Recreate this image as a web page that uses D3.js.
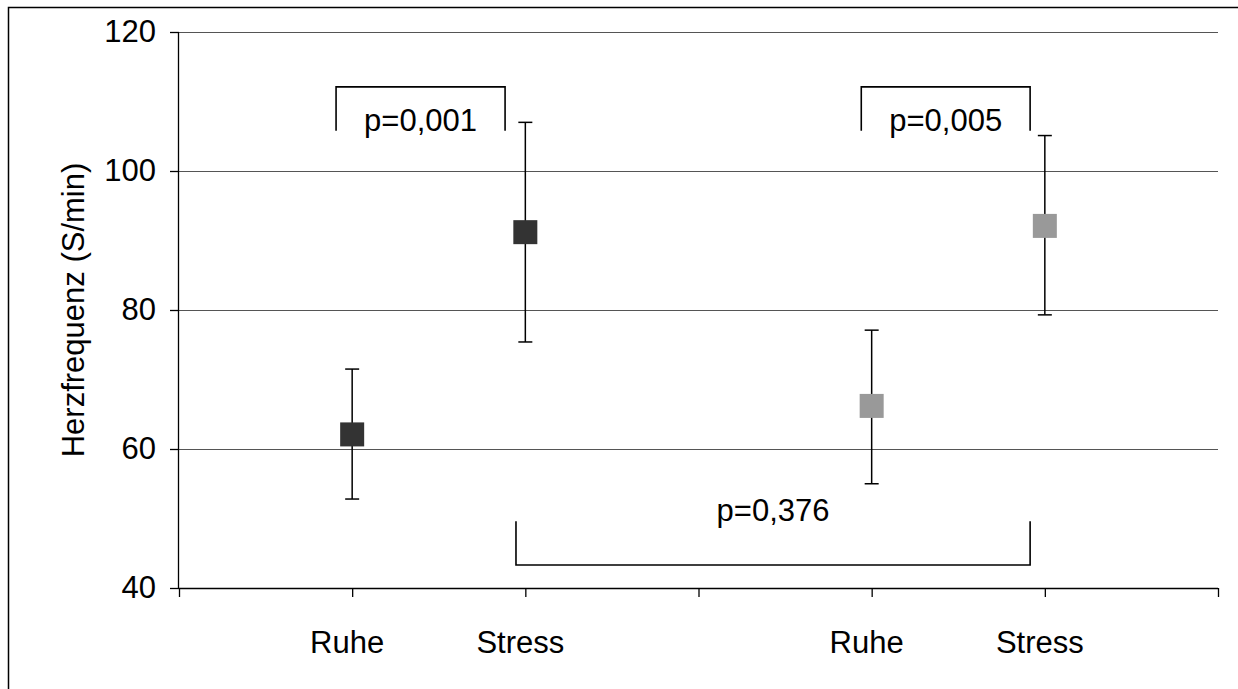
<!DOCTYPE html>
<html>
<head>
<meta charset="utf-8">
<script src="https://cdn.jsdelivr.net/npm/d3@7"></script>
<style>
  html, body { margin: 0; padding: 0; background: #fff; }
  svg { display: block; font-family: "Liberation Sans", Arial, sans-serif; }
</style>
</head>
<body>
<div id="chart"></div>
<script>
const categories = ['Ruhe', 'Stress', 'Ruhe', 'Stress'];
const catPos     = [1, 2, 4, 5];
const means      = [62.1, 91.2, 66.2, 92.1];
const upper      = [71.5, 107.0, 77.1, 105.1];
const lower      = [52.8, 75.4, 55.0, 79.3];
const fills      = ['#333333', '#333333', '#999999', '#999999'];
const yTicks     = [40, 60, 80, 100, 120];
const xTicks     = [0, 1, 2, 3, 4, 5, 6];

// significance brackets: x in category units, y in S/min
const brackets = [
  { x1: 0.907, x2: 1.883, yEdge: 105.8, yBar: 112.1, label: 'p=0,001', ly: 105.8 },
  { x1: 3.94,  x2: 4.915, yEdge: 105.8, yBar: 112.1, label: 'p=0,005', ly: 105.8 },
  { x1: 1.946, x2: 4.915, yEdge: 49.6,  yBar: 43.3,  label: 'p=0,376', ly: 49.6 }
];

const W = 1238, H = 689;
const M = { top: 32, right: 20, bottom: 101, left: 179 };
const w = W - M.left - M.right;
const h = H - M.top - M.bottom;
const FONT = '31px';

const svg = d3.select('#chart').append('svg')
  .attr('width', W).attr('height', H);

// outer frame
svg.append('rect')
  .attr('x', 8.5).attr('y', 7.5).attr('width', W).attr('height', H)
  .attr('fill', 'none').attr('stroke', '#000').attr('stroke-width', 1.5);

const g = svg.append('g').attr('transform', `translate(${M.left},${M.top})`);

const x = d3.scaleLinear().domain([0, 6]).range([0, w]);
const y = d3.scaleLinear().domain([40, 120]).range([h, 0]);

// gridlines
g.selectAll('.grid').data(yTicks.filter(t => t > 40)).enter().append('line')
  .attr('x1', 0).attr('x2', w)
  .attr('y1', d => Math.round(y(d)) + 0.5).attr('y2', d => Math.round(y(d)) + 0.5)
  .attr('stroke', '#555').attr('stroke-width', 1.2);

// axes
const yAxis = g.append('g')
  .call(d3.axisLeft(y).tickValues(yTicks).tickSize(9).tickPadding(14));
const xAxis = g.append('g').attr('transform', `translate(0,${h})`)
  .call(d3.axisBottom(x).tickValues(xTicks).tickSize(9).tickFormat(''));
[yAxis, xAxis].forEach(a => {
  a.select('.domain').attr('stroke', '#000').attr('stroke-width', 1.3);
  a.selectAll('.tick line').attr('stroke', '#000').attr('stroke-width', 1.3);
});
yAxis.select('.domain').attr('d', `M-0.5,${h}V0`);
xAxis.select('.domain').attr('d', `M0,0.5H${w}`);
yAxis.selectAll('.tick text')
  .attr('fill', '#000').style('font-size', FONT).style('font-family', 'Liberation Sans, Arial, sans-serif');

// category labels
g.selectAll('.cat').data(categories).enter().append('text')
  .attr('x', (d, i) => x(catPos[i]) - 5)
  .attr('y', h + 65)
  .attr('text-anchor', 'middle')
  .style('font-size', FONT)
  .text(d => d);

// y-axis title
g.append('text')
  .attr('transform', `translate(${-95},${h / 2}) rotate(-90)`)
  .attr('text-anchor', 'middle')
  .style('font-size', FONT)
  .text('Herzfrequenz (S/min)');

// error bars
const pts = categories.map((c, i) => ({ c, pos: catPos[i], m: means[i], hi: upper[i], lo: lower[i], fill: fills[i] }));
const eb = g.selectAll('.eb').data(pts).enter().append('g').attr('class', 'eb');
eb.append('line')
  .attr('x1', d => x(d.pos)).attr('x2', d => x(d.pos))
  .attr('y1', d => y(d.hi)).attr('y2', d => y(d.lo))
  .attr('stroke', '#000').attr('stroke-width', 1.5);
['hi', 'lo'].forEach(k => {
  eb.append('line')
    .attr('x1', d => x(d.pos) - 7).attr('x2', d => x(d.pos) + 7)
    .attr('y1', d => y(d[k])).attr('y2', d => y(d[k]))
    .attr('stroke', '#000').attr('stroke-width', 1.5);
});

// markers
const S = 24;
g.selectAll('.mk').data(pts).enter().append('rect')
  .attr('x', d => x(d.pos) - S / 2).attr('y', d => y(d.m) - S / 2)
  .attr('width', S).attr('height', S)
  .attr('fill', d => d.fill);

// brackets
const br = g.selectAll('.br').data(brackets).enter().append('g');
br.append('path')
  .attr('d', d => `M${x(d.x1)},${y(d.yEdge)}V${y(d.yBar)}H${x(d.x2)}V${y(d.yEdge)}`)
  .attr('fill', 'none').attr('stroke', '#000').attr('stroke-width', 1.6);
br.append('text')
  .attr('x', d => (x(d.x1) + x(d.x2)) / 2)
  .attr('y', d => y(d.ly) - (d.yBar > d.yEdge ? 0 : 0))
  .attr('text-anchor', 'middle')
  .style('font-size', FONT)
  .text(d => d.label);
</script>
</body>
</html>
